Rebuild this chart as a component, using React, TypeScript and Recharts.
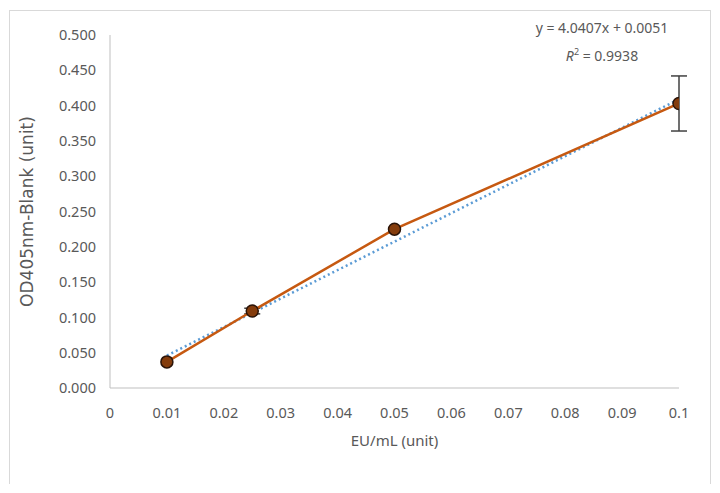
import React from 'react'
import {
  ComposedChart,
  Line,
  XAxis,
  YAxis,
  ErrorBar,
} from 'recharts'

// standard curve readings
const concentrations = [0.01, 0.025, 0.05, 0.1]
const absorbance = [0.037, 0.109, 0.225, 0.403]
const errors = [0, 0.004, 0, 0.039]

// linear trendline ends
const trendX = [0.01, 0.1]
const trendY = [0.046, 0.409]

const xTicks = [0, 0.01, 0.02, 0.03, 0.04, 0.05, 0.06, 0.07, 0.08, 0.09, 0.1]
const yTicks = [0, 0.05, 0.1, 0.15, 0.2, 0.25, 0.3, 0.35, 0.4, 0.45, 0.5]

const equation = 'y = 4.0407x + 0.0051'
const rSquared = '0.9938'

const points = concentrations.map((x, i) => ({ x, y: absorbance[i], err: errors[i] }))
const trend = trendX.map((x, i) => ({ x, y: trendY[i] }))

const font = '"Noto Sans", sans-serif'
const grey = '#595959'

export default function App() {
  return (
    <div
      style={{
        position: 'relative',
        left: 1,
        top: 2,
        width: 700,
        height: 474,
        border: '1px solid #d9d9d9',
        fontFamily: font,
      }}
    >
      <ComposedChart
        width={700}
        height={474}
        margin={{ top: 24, right: 31, bottom: 37, left: 10 }}
      >
        <XAxis
          dataKey="x"
          type="number"
          domain={[0, 0.1]}
          ticks={xTicks}
          allowDataOverflow
          tickFormatter={(v: number) => String(Number(v.toFixed(2)))}
          tickLine={false}
          tickSize={0}
          tickMargin={20}
          height={60}
          stroke="#bfbfbf"
          tick={{ fill: grey, fontSize: 14.5, fontFamily: font }}
          label={{
            value: 'EU/mL (unit)',
            position: 'insideBottom',
            offset: 2,
            fill: grey,
            fontSize: 15,
            fontFamily: font,
          }}
        />
        <YAxis
          dataKey="y"
          type="number"
          domain={[0, 0.5]}
          ticks={yTicks}
          tickFormatter={(v: number) => v.toFixed(3)}
          tickLine={false}
          tickSize={0}
          tickMargin={14}
          width={90}
          stroke="#bfbfbf"
          tick={{ fill: grey, fontSize: 14.5, fontFamily: font }}
          label={{
            value: 'OD405nm-Blank (unit)',
            angle: -90,
            position: 'insideLeft',
            offset: 7,
            textAnchor: 'middle',
            fill: grey,
            fontSize: 17,
            fontFamily: '"DejaVu Sans", sans-serif',
          }}
        />
        <Line
          data={trend}
          dataKey="y"
          stroke="#5b9bd5"
          strokeWidth={2.5}
          strokeDasharray="2 3"
          dot={false}
          isAnimationActive={false}
        />
        <Line
          data={points}
          dataKey="y"
          stroke="#c65911"
          strokeWidth={2.5}
          dot={{ r: 6, fill: '#843c0c', stroke: '#2b1408', strokeWidth: 1.5 }}
          isAnimationActive={false}
        >
          <ErrorBar dataKey="err" direction="y" width={8} stroke="#404040" strokeWidth={1.5} />
        </Line>
      </ComposedChart>
      <div
        style={{
          position: 'absolute',
          left: 510,
          top: 5,
          width: 164,
          textAlign: 'center',
          color: grey,
          fontSize: 14,
          lineHeight: '24px',
        }}
      >
        <div>{equation}</div>
        <div>
          <i>R</i>
          <sup style={{ fontSize: 9 }}>2</sup> = {rSquared}
        </div>
      </div>
    </div>
  )
}
